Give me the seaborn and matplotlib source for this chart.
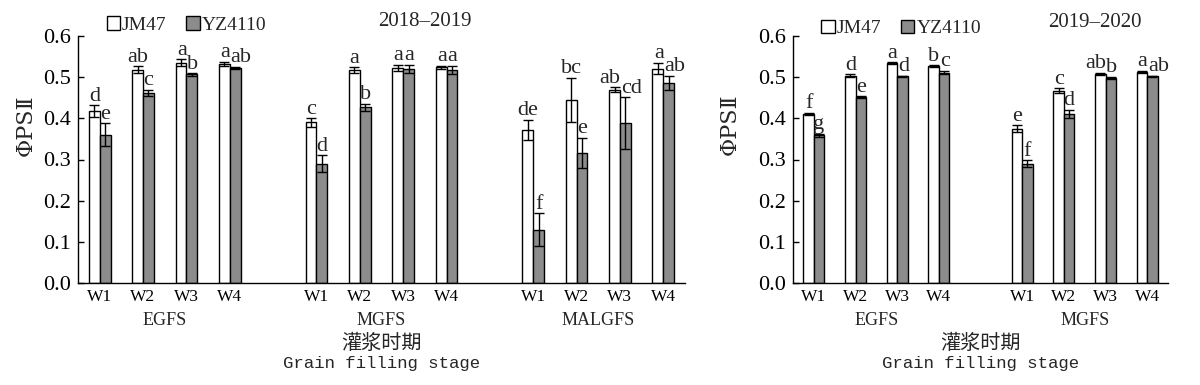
import matplotlib
matplotlib.use('Agg')
import matplotlib.pyplot as plt
import seaborn as sns
import pandas as pd
from matplotlib.patches import Patch
from matplotlib.transforms import blended_transform_factory

# ---------------- data ----------------
varieties = ['JM47', 'YZ4110']
weeks = ['W1', 'W2', 'W3', 'W4']
stages_1 = ['EGFS', 'MGFS', 'MALGFS']
stages_2 = ['EGFS', 'MGFS']
titles = ['2018–2019', '2019–2020']

jm_1 = [0.418, 0.518, 0.535, 0.532, 0.390, 0.517, 0.522, 0.524, 0.372, 0.444, 0.470, 0.521]
jm_1_err = [0.014, 0.008, 0.008, 0.005, 0.010, 0.007, 0.008, 0.004, 0.025, 0.054, 0.005, 0.014]
yz_1 = [0.360, 0.462, 0.507, 0.522, 0.290, 0.427, 0.520, 0.518, 0.129, 0.316, 0.388, 0.487]
yz_1_err = [0.028, 0.007, 0.003, 0.003, 0.020, 0.008, 0.010, 0.010, 0.040, 0.037, 0.063, 0.017]
jm_1_let = ['d', 'ab', 'a', 'a', 'c', 'a', 'a', 'a', 'de', 'bc', 'ab', 'a']
yz_1_let = ['e', 'c', 'b', 'ab', 'd', 'b', 'a', 'a', 'f', 'e', 'cd', 'ab']

jm_2 = [0.411, 0.504, 0.534, 0.527, 0.375, 0.467, 0.508, 0.513]
jm_2_err = [0.002, 0.003, 0.002, 0.002, 0.008, 0.006, 0.003, 0.003]
yz_2 = [0.359, 0.452, 0.502, 0.511, 0.290, 0.411, 0.498, 0.502]
yz_2_err = [0.004, 0.002, 0.002, 0.004, 0.008, 0.010, 0.003, 0.002]
jm_2_let = ['f', 'd', 'a', 'b', 'e', 'c', 'ab', 'a']
yz_2_let = ['g', 'e', 'd', 'c', 'f', 'd', 'b', 'ab']

GRAY = '#8c8c8c'


def build(stages, jm, jm_err, yz, yz_err, jm_let, yz_let):
    rows = []
    for si, st in enumerate(stages):
        for wi, wk in enumerate(weeks):
            k = si * 4 + wi
            pos = si * 5 + wi
            rows.append(dict(pos=pos, stage=st, week=wk, variety='JM47',
                             value=jm[k], err=jm_err[k], letter=jm_let[k]))
            rows.append(dict(pos=pos, stage=st, week=wk, variety='YZ4110',
                             value=yz[k], err=yz_err[k], letter=yz_let[k]))
    return pd.DataFrame(rows)


df1 = build(stages_1, jm_1, jm_1_err, yz_1, yz_1_err, jm_1_let, yz_1_let)
df2 = build(stages_2, jm_2, jm_2_err, yz_2, yz_2_err, jm_2_let, yz_2_let)

sns.set_style('ticks')
plt.rcParams['font.family'] = ['Liberation Serif', 'Noto Sans CJK SC', 'DejaVu Sans']
plt.rcParams['axes.linewidth'] = 1.0

fig = plt.figure(figsize=(12, 3.85), dpi=100)
ax1 = fig.add_axes([78 / 1200, 102 / 385, 607 / 1200, 247 / 385])
ax2 = fig.add_axes([793 / 1200, 102 / 385, 375 / 1200, 247 / 385])

configs = [
    (ax1, df1, stages_1, titles[0], (0.047, 1.045), (0.572, 1.057), (-0.068, 0.64)),
    (ax2, df2, stages_2, titles[1], (0.075, 1.03), (0.805, 1.053), (-0.14, 0.644)),
]

LET_PAD = 0.011
for ax, df, stages, title, leg_xy, title_xy, ylab_xy in configs:
    sns.barplot(data=df, x='pos', y='value', hue='variety', hue_order=varieties,
                palette={'JM47': 'white', 'YZ4110': GRAY}, native_scale=True,
                width=0.5, gap=0, errorbar=None, edgecolor='black', linewidth=1.0,
                legend=False, ax=ax)
    lookup = {(r.pos, r.variety): r for r in df.itertuples()}
    bars = {}
    for bar in ax.patches:
        cx = bar.get_x() + bar.get_width() / 2
        h = bar.get_height()
        p = int(round(cx))
        var = 'JM47' if cx < p else 'YZ4110'
        r = lookup.get((p, var))
        if r is None:
            continue
        bars[(p, var)] = (cx, h, r)
        ax.errorbar(cx, h, yerr=r.err, fmt='none', ecolor='black',
                    elinewidth=1.0, capsize=3.5, capthick=1.0, zorder=5)

    for p in sorted(df['pos'].unique()):
        cj, hj, rj = bars[(p, 'JM47')]
        cy, hy, ry = bars[(p, 'YZ4110')]
        yj = hj + rj.err + LET_PAD
        yy = hy + ry.err + LET_PAD
        if abs(yj - yy) < 0.04:
            ax.text(p + 0.01, yj, rj.letter, ha='right', va='baseline', fontsize=16)
            ax.text(p + 0.02, yy, ry.letter, ha='left', va='baseline', fontsize=16)
        else:
            ax.text(cj, yj, rj.letter, ha='center', va='baseline', fontsize=16)
            ax.text(cy, yy, ry.letter, ha='center', va='baseline', fontsize=16)

    positions = sorted(df['pos'].unique())
    ax.set_xticks(positions)
    ax.set_xticklabels([df[df.pos == p].week.iloc[0] for p in positions], fontsize=12.5)
    ax.set_xlim(-0.5, positions[-1] + 0.5)
    ax.set_ylim(0, 0.6)
    ax.set_yticks([0, 0.1, 0.2, 0.3, 0.4, 0.5, 0.6])
    ax.set_yticklabels([f'{v:.1f}' for v in [0, 0.1, 0.2, 0.3, 0.4, 0.5, 0.6]], fontsize=16)
    ax.tick_params(axis='y', direction='in', length=4, width=1, pad=5, colors='black')
    ax.tick_params(axis='x', length=0, pad=4, colors='black')
    for s in ['top', 'right']:
        ax.spines[s].set_visible(False)
    for s in ['left', 'bottom']:
        ax.spines[s].set_color('black')
    ax.set_xlabel('')
    ax.set_ylabel('ΦPSⅡ', fontsize=16, family=['DejaVu Serif', 'Noto Sans CJK SC'])
    ax.yaxis.set_label_coords(*ylab_xy)

    trans = blended_transform_factory(ax.transData, ax.transAxes)
    for si, st in enumerate(stages):
        center = si * 5 + 1.5
        ax.text(center, -0.15, st, transform=trans, ha='center', va='center', fontsize=13)
    ax.text(0.5, -0.243, '灌浆时期', transform=ax.transAxes, ha='center', va='center',
            fontsize=14.5, family=['Noto Sans CJK SC'])
    ax.text(0.5, -0.325, 'Grain filling stage', transform=ax.transAxes, ha='center',
            va='center', fontsize=12.5, family=['Liberation Mono'])
    ax.text(*title_xy, title, transform=ax.transAxes, ha='center', va='center', fontsize=15)

    handles = [Patch(facecolor='white', edgecolor='black', linewidth=1.0, label='JM47'),
               Patch(facecolor=GRAY, edgecolor='black', linewidth=1.0, label='YZ4110')]
    ax.legend(handles=handles, loc='center left', bbox_to_anchor=leg_xy, ncol=2,
              frameon=False, fontsize=14, handlelength=0.7, handleheight=0.7,
              handletextpad=0.1, columnspacing=1.0, borderaxespad=0, borderpad=0)

fig.savefig('out.png', dpi=100)
